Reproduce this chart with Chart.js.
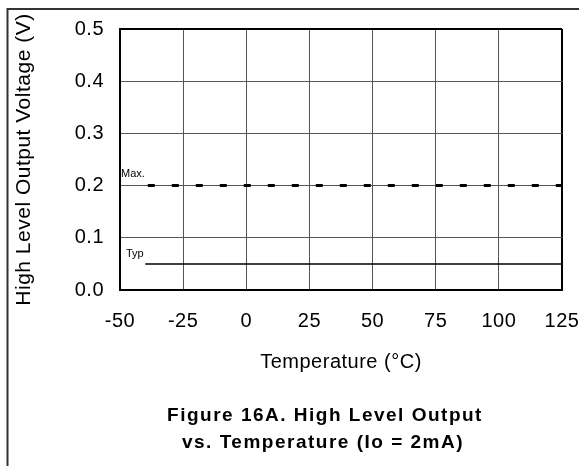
<!DOCTYPE html>
<html><head><meta charset="utf-8">
<script src="https://cdn.jsdelivr.net/npm/chart.js@4"></script>
<style>html,body{margin:0;padding:0;background:#fff;}#wrap{width:579px;height:466px;position:relative}</style>
</head><body><div id="wrap"><canvas id="c" width="579" height="466"></canvas></div>
<script>
const xTickLabels = ['-50','-25','0','25','50','75','100','125'];
const yTickLabels = ['0.0','0.1','0.2','0.3','0.4','0.5'];
const maxTemp = [-39, 125];
const maxVolt = [0.2, 0.2];
const typTemp = [-40, 125];
const typVolt = [0.05, 0.05];
const seriesNames = ['Max.', 'Typ'];
const xTitle = 'Temperature (°C)';
const yTitle = 'High Level Output Voltage (V)';
const figTitle = ['Figure 16A. High Level Output', 'vs. Temperature (Io = 2mA)'];

const FONT = 'Arial, "Liberation Sans", Helvetica, sans-serif';
const toPts = (xs, ys) => xs.map((x, i) => ({x: x, y: ys[i]}));

const gridColor = (c) => (c.index === 0 || c.index === c.scale.ticks.length - 1) ? '#000' : '#555';
const gridWidth = (c) => (c.index === 0 || c.index === c.scale.ticks.length - 1) ? 2 : 1;

const decor = {
  id: 'decor',
  beforeInit(chart) { chart.ctx.letterSpacing = '0.5px'; },
  beforeDraw(chart) { chart.ctx.letterSpacing = '0.5px'; },
  afterDraw(chart) {
    const ctx = chart.ctx;
    const xs = chart.scales.x, ys = chart.scales.y;
    ctx.save();
    // outer frame (top and left)
    ctx.strokeStyle = '#333';
    ctx.lineWidth = 2;
    ctx.beginPath();
    ctx.moveTo(579, 9); ctx.lineTo(7.5, 9); ctx.lineTo(7.5, 466);
    ctx.stroke();
    // series labels
    ctx.fillStyle = '#000';
    ctx.textBaseline = 'middle';
    ctx.textAlign = 'left';
    ctx.letterSpacing = '0px';
    ctx.font = '11px ' + FONT;
    ctx.fillText(seriesNames[0], xs.getPixelForValue(xs.min) + 1, ys.getPixelForValue(maxVolt[0]) - 12);
    ctx.fillText(seriesNames[1], xs.getPixelForValue(xs.min) + 6, ys.getPixelForValue(typVolt[0]) - 10);
    // figure title
    ctx.textAlign = 'center';
    ctx.letterSpacing = '1.5px';
    ctx.font = 'bold 19px ' + FONT;
    ctx.fillText(figTitle[0], 325, 416);
    ctx.fillText(figTitle[1], 323, 443);
    ctx.restore();
  }
};

new Chart(document.getElementById('c'), {
  type: 'scatter',
  data: {
    datasets: [
      { label: seriesNames[0], data: toPts(maxTemp, maxVolt), showLine: true, borderColor: '#000', borderWidth: 3, borderDash: [7, 17], pointRadius: 0, borderCapStyle: 'butt' },
      { label: seriesNames[1], data: toPts(typTemp, typVolt), showLine: true, borderColor: '#000', borderWidth: 1.5, pointRadius: 0 }
    ]
  },
  options: {
    responsive: false,
    animation: false,
    devicePixelRatio: 1,
    layout: { padding: { left: 0, right: 17, top: 29, bottom: 0 } },
    plugins: { legend: { display: false }, title: { display: false }, tooltip: { enabled: false } },
    scales: {
      x: {
        type: 'linear', min: -50, max: 125,
        ticks: { stepSize: 25, autoSkip: false, maxRotation: 0, color: '#000', padding: 19,
          font: { family: FONT, size: 20 }, callback: (v, i) => xTickLabels[i] },
        grid: { color: gridColor, lineWidth: gridWidth, drawTicks: false },
        border: { display: true, color: '#000', width: 2 },
        title: { display: true, text: xTitle, color: '#000', font: { family: FONT, size: 20 }, padding: { top: 0, bottom: 92 } },
        afterFit: (s) => { s.height = 176; s.paddingLeft = 0; s.paddingRight = 0; }
      },
      y: {
        type: 'linear', min: 0, max: 0.5,
        ticks: { stepSize: 0.1, autoSkip: false, color: '#000', padding: 16,
          font: { family: FONT, size: 20 }, callback: (v, i) => yTickLabels[i] },
        grid: { color: gridColor, lineWidth: gridWidth, drawTicks: false },
        border: { display: true, color: '#000', width: 2 },
        title: { display: true, text: yTitle, color: '#000', font: { family: FONT, size: 21 }, padding: { top: 12, bottom: 0 } },
        afterFit: (s) => { s.width = 120; s.paddingTop = 0; s.paddingBottom = 0; }
      }
    }
  },
  plugins: [decor]
});
</script>
</body></html>
